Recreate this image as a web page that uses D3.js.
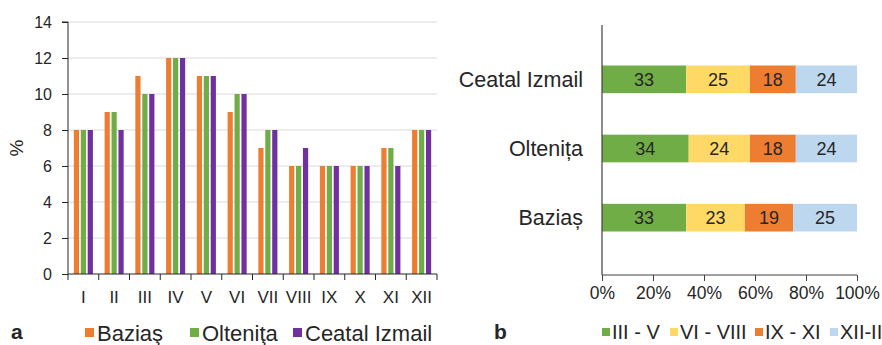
<!DOCTYPE html>
<html>
<head>
<meta charset="utf-8">
<script src="https://cdn.jsdelivr.net/npm/d3@7"></script>
<style>
  html, body { margin: 0; padding: 0; background: #fff; }
  svg { display: block; font-family: "Liberation Sans", Arial, sans-serif; }
</style>
</head>
<body>
<svg id="chart" width="882" height="345"></svg>
<script>
// Panel a: monthly share of annual flow (%) at three stations
const months = ["I", "II", "III", "IV", "V", "VI", "VII", "VIII", "IX", "X", "XI", "XII"];
const stations = ["Baziaş", "Olteniţa", "Ceatal Izmail"];
const bazias = [8, 9, 11, 12, 11, 9, 7, 6, 6, 6, 7, 8];
const oltenita = [8, 9, 10, 12, 11, 10, 8, 6, 6, 6, 7, 8];
const ceatal = [8, 8, 10, 12, 11, 10, 8, 7, 6, 6, 6, 8];
const yTicks = [0, 2, 4, 6, 8, 10, 12, 14];
const stationColors = ["#ED7D31", "#70AD47", "#7030A0"];

// Panel b: seasonal share (%) per station
const seasonNames = ["III - V", "VI - VIII", "IX - XI", "XII-II"];
const seasonStations = ["Ceatal Izmail", "Oltenița", "Baziaș"];
const seasonCeatal = [33, 25, 18, 24];
const seasonOltenita = [34, 24, 18, 24];
const seasonBazias = [33, 23, 19, 25];
const pctTicks = [0, 20, 40, 60, 80, 100];
const seasonColors = ["#70AD47", "#FFD966", "#ED7D31", "#BDD7EE"];

const svg = d3.select("#chart");
const textColor = "#262626";

// ---------- Panel a ----------
const seriesA = [bazias, oltenita, ceatal];
const ax = { left: 68, right: 437, top: 22, bottom: 274 };

const x0 = d3.scaleBand().domain(months).range([ax.left, ax.right])
  .paddingInner(0.38).paddingOuter(0.19);
const x1 = d3.scaleBand().domain(d3.range(stations.length))
  .range([0, x0.bandwidth()]).paddingInner(0.25);
const yA = d3.scaleLinear().domain([0, 14]).range([ax.bottom, ax.top]);

const gA = svg.append("g");

// gridlines
gA.append("g").selectAll("line").data(yTicks.filter(d => d > 0)).join("line")
  .attr("x1", ax.left).attr("x2", ax.right)
  .attr("y1", d => yA(d)).attr("y2", d => yA(d))
  .attr("stroke", "#d9d9d9").attr("stroke-width", 1);

// bars
months.forEach((m, i) => {
  gA.append("g").selectAll("rect").data(seriesA.map((s, k) => ({ k, v: s[i] }))).join("rect")
    .attr("x", d => x0(m) + x1(d.k))
    .attr("width", x1.bandwidth())
    .attr("y", d => yA(d.v))
    .attr("height", d => yA(0) - yA(d.v))
    .attr("fill", d => stationColors[d.k]);
});

// y axis
const yAxisA = d3.axisLeft(yA).tickValues(yTicks).tickSize(6).tickPadding(10);
gA.append("g").attr("transform", `translate(${ax.left},0)`).call(yAxisA)
  .call(g => g.selectAll("text").attr("font-size", 16).attr("fill", textColor))
  .call(g => g.selectAll("line,path").attr("stroke", "#262626"));
gA.select("g .domain").attr("d", `M-6,${ax.top}H0V${ax.bottom}`);

// x axis with ticks at band boundaries
const xAxisLine = gA.append("g").attr("transform", `translate(0,${ax.bottom})`);
xAxisLine.append("line").attr("x1", ax.left).attr("x2", ax.right)
  .attr("stroke", "#262626");
const step = x0.step();
xAxisLine.selectAll("line.tk").data(d3.range(months.length + 1)).join("line")
  .attr("class", "tk")
  .attr("x1", i => ax.left + i * step).attr("x2", i => ax.left + i * step)
  .attr("y1", 0).attr("y2", 6).attr("stroke", "#262626");
xAxisLine.selectAll("text").data(months).join("text")
  .attr("x", d => x0(d) + x0.bandwidth() / 2)
  .attr("y", 29)
  .attr("text-anchor", "middle")
  .attr("font-size", 17).attr("fill", textColor)
  .text(d => d);

// y axis title
gA.append("text")
  .attr("transform", "translate(23,148) rotate(-90)")
  .attr("text-anchor", "middle")
  .attr("font-size", 19).attr("fill", textColor)
  .text("%");

// legend a
const legA = [85, 190, 293];
stations.forEach((name, k) => {
  gA.append("rect").attr("x", legA[k]).attr("y", 328).attr("width", 9).attr("height", 9)
    .attr("fill", stationColors[k]);
  gA.append("text").attr("x", legA[k] + 12).attr("y", 341)
    .attr("font-size", 22).attr("fill", textColor).text(name);
});

// panel letter
svg.append("text").attr("x", 11).attr("y", 339)
  .attr("font-size", 21).attr("font-weight", "bold").attr("fill", textColor).text("a");

// ---------- Panel b ----------
const bx = { left: 602, right: 857, top: 25, bottom: 275 };
const seriesB = [seasonCeatal, seasonOltenita, seasonBazias];
const xB = d3.scaleLinear().domain([0, 100]).range([bx.left, bx.right]);
const yB = d3.scaleBand().domain(seasonStations).range([bx.top - 1, bx.bottom - 2]).padding(0.6);

const gB = svg.append("g");

seasonStations.forEach((st, r) => {
  const vals = seriesB[r];
  let acc = 0;
  const segs = vals.map((v, k) => { const s = { k, v, x0: acc, x1: acc + v }; acc += v; return s; });
  const row = gB.append("g");
  row.selectAll("rect").data(segs).join("rect")
    .attr("x", d => xB(d.x0))
    .attr("width", d => xB(d.x1) - xB(d.x0))
    .attr("y", yB(st))
    .attr("height", yB.bandwidth())
    .attr("fill", d => seasonColors[d.k]);
  row.selectAll("text").data(segs).join("text")
    .attr("x", d => (xB(d.x0) + xB(d.x1)) / 2)
    .attr("y", yB(st) + yB.bandwidth() / 2)
    .attr("dy", "0.36em")
    .attr("text-anchor", "middle")
    .attr("font-size", 18).attr("fill", textColor)
    .text(d => d.v);
});

// category labels
gB.selectAll("text.cat").data(seasonStations).join("text")
  .attr("class", "cat")
  .attr("x", bx.left - 19)
  .attr("y", d => yB(d) + yB.bandwidth() / 2)
  .attr("dy", "0.36em")
  .attr("text-anchor", "end")
  .attr("font-size", 21.5).attr("fill", textColor)
  .text(d => d);

// axes
gB.append("line").attr("x1", bx.left).attr("x2", bx.left)
  .attr("y1", bx.top).attr("y2", bx.bottom).attr("stroke", "#404040").attr("stroke-width", 1.2);
const xAxisB = d3.axisBottom(xB).tickValues(pctTicks).tickSize(6).tickPadding(6)
  .tickFormat(d => d + "%");
gB.append("g").attr("transform", `translate(0,${bx.bottom})`).call(xAxisB)
  .call(g => g.select(".domain").attr("d", `M${bx.left},0H${bx.right}`))
  .call(g => g.selectAll("line,path").attr("stroke", "#404040"))
  .call(g => g.selectAll("text").attr("font-size", 17.5).attr("fill", textColor));

// legend b
const legB = [602, 670, 755, 830];
seasonNames.forEach((name, k) => {
  gB.append("rect").attr("x", legB[k]).attr("y", 328).attr("width", 8).attr("height", 8)
    .attr("fill", seasonColors[k]);
  gB.append("text").attr("x", legB[k] + 10).attr("y", 339)
    .attr("font-size", 20).attr("fill", textColor).text(name);
});

svg.append("text").attr("x", 494).attr("y", 339)
  .attr("font-size", 21).attr("font-weight", "bold").attr("fill", textColor).text("b");
</script>
</body>
</html>
